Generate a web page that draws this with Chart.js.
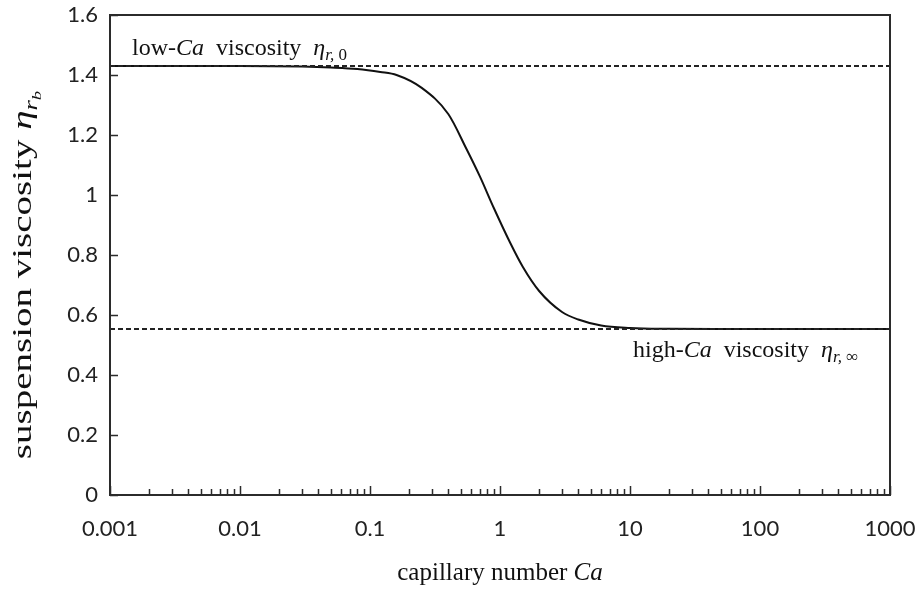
<!DOCTYPE html>
<html><head><meta charset="utf-8">
<script src="https://cdn.jsdelivr.net/npm/chart.js@4.4.1/dist/chart.umd.min.js"></script>
<style>html,body{margin:0;padding:0;background:#fff}canvas{display:block}</style>
</head><body>
<canvas id="c" width="919" height="597"></canvas>
<script>
// ---- data ----
const capillaryNumbers = [0.001, 0.003, 0.01, 0.03, 0.05, 0.08, 0.12, 0.16, 0.25, 0.4, 0.55, 0.7, 0.9, 1.2, 1.5, 2, 3, 4, 6, 10, 20, 50, 100, 1000];
const suspensionViscosity = [1.43, 1.43, 1.43, 1.428, 1.425, 1.42, 1.41, 1.40, 1.357, 1.27, 1.155, 1.062, 0.955, 0.84, 0.76, 0.68, 0.61, 0.585, 0.565, 0.557, 0.554, 0.553, 0.553, 0.553];
const lowCaViscosity = 1.43;
const highCaViscosity = 0.553;
const xRange = [0.001, 1000];
const xTickValues = [0.001, 0.01, 0.1, 1, 10, 100, 1000];
const yTickValues = [0, 0.2, 0.4, 0.6, 0.8, 1, 1.2, 1.4, 1.6];

const SERIF = '"Liberation Serif", "DejaVu Serif", serif';
const SANS = 'Lato, "Open Sans", sans-serif';

function runsWidth(ctx, runs){
  let w = 0;
  for (const r of runs){ ctx.font = r.font; w += ctx.measureText(r.text).width; }
  return w;
}
function drawRuns(ctx, runs, x, y){
  let cx = x;
  for (const r of runs){
    ctx.font = r.font;
    ctx.fillText(r.text, cx, y + (r.dy || 0));
    cx += ctx.measureText(r.text).width;
  }
}

const decor = {
  id: 'decor',
  afterDraw(chart){
    const ctx = chart.ctx, a = chart.chartArea;
    const xs = chart.scales.x, ys = chart.scales.y;
    ctx.save();
    // frame
    ctx.strokeStyle = '#2b2b2b';
    ctx.lineWidth = 2;
    ctx.strokeRect(a.left, a.top, a.right - a.left, a.bottom - a.top);
    // y ticks (inward)
    ctx.lineWidth = 1.5;
    ctx.beginPath();
    for (const v of yTickValues){
      const py = Math.round(ys.getPixelForValue(v)) + 0.5;
      ctx.moveTo(a.left, py); ctx.lineTo(a.left + 8, py);
    }
    // x ticks (inward), major and minor
    for (let i = 0; i < xTickValues.length; i++){
      const d = xTickValues[i];
      const px = Math.round(xs.getPixelForValue(d)) + 0.5;
      ctx.moveTo(px, a.bottom); ctx.lineTo(px, a.bottom - 9);
      if (i < xTickValues.length - 1){
        for (let m = 2; m <= 9; m++){
          const p = Math.round(xs.getPixelForValue(d * m)) + 0.5;
          ctx.moveTo(p, a.bottom); ctx.lineTo(p, a.bottom - 6);
        }
      }
    }
    ctx.stroke();

    ctx.fillStyle = '#111';
    ctx.textBaseline = 'alphabetic';
    const f = (s, it) => (it ? 'italic ' : '') + s + 'px ' + SERIF;

    // x axis title
    const xt = [
      {text: 'capillary number ', font: f(25)},
      {text: 'Ca', font: f(25, true)}
    ];
    const xw = runsWidth(ctx, xt);
    drawRuns(ctx, xt, (a.left + a.right) / 2 - xw / 2, 580);

    // y axis title (rotated, stretched like the reference)
    const yt = [
      {text: 'suspension viscosity ', font: f(25)},
      {text: 'η', font: f(25, true)},
      {text: 'r', font: f(17, true), dy: 5},
      {text: 'b', font: f(12, true), dy: 9}
    ];
    const yw = runsWidth(ctx, yt);
    ctx.save();
    ctx.translate(31, 275);
    ctx.rotate(-Math.PI / 2);
    ctx.scale(1.56, 1.12);
    drawRuns(ctx, yt, -yw / 2, 0);
    ctx.restore();

    // annotations
    const low = [
      {text: 'low-', font: f(24)},
      {text: 'Ca', font: f(24, true)},
      {text: '  viscosity  ', font: f(24)},
      {text: 'η', font: f(24, true)},
      {text: 'r,', font: f(17, true), dy: 5},
      {text: ' 0', font: f(17), dy: 5}
    ];
    drawRuns(ctx, low, 132, 55);
    const high = [
      {text: 'high-', font: f(24)},
      {text: 'Ca', font: f(24, true)},
      {text: '  viscosity  ', font: f(24)},
      {text: 'η', font: f(24, true)},
      {text: 'r,', font: f(17, true), dy: 5},
      {text: ' ∞', font: f(17), dy: 5}
    ];
    drawRuns(ctx, high, 633, 357);
    ctx.restore();
  }
};

const pts = (xsArr, ysArr) => xsArr.map((x, i) => ({x, y: ysArr[i]}));

new Chart(document.getElementById('c'), {
  type: 'line',
  data: {
    datasets: [
      {
        label: 'low-Ca viscosity',
        data: pts(xRange, [lowCaViscosity, lowCaViscosity]),
        borderColor: '#222', borderWidth: 2, borderDash: [5, 3],
        pointRadius: 0, tension: 0
      },
      {
        label: 'high-Ca viscosity',
        data: pts(xRange, [highCaViscosity, highCaViscosity]),
        borderColor: '#222', borderWidth: 2, borderDash: [5, 3],
        pointRadius: 0, tension: 0
      },
      {
        label: 'suspension viscosity',
        data: pts(capillaryNumbers, suspensionViscosity),
        borderColor: '#111', borderWidth: 2,
        pointRadius: 0, tension: 0.2, cubicInterpolationMode: 'monotone'
      }
    ]
  },
  options: {
    responsive: false,
    animation: false,
    devicePixelRatio: 1,
    layout: {padding: {top: 15, right: 29, left: 0, bottom: 0}},
    plugins: {legend: {display: false}, tooltip: {enabled: false}},
    scales: {
      x: {
        type: 'logarithmic',
        min: xRange[0], max: xRange[1],
        grid: {display: false, drawTicks: true, tickLength: 21},
        border: {display: true, color: '#2b2b2b', width: 2},
        afterBuildTicks: s => { s.ticks = xTickValues.map(v => ({value: v, major: true})); },
        ticks: {
          autoSkip: false, maxRotation: 0, padding: 0,
          color: '#222', font: {family: SANS, size: 22},
          callback: v => String(v)
        },
        afterFit: s => { s.height = 102; }
      },
      y: {
        type: 'linear',
        min: 0, max: 1.6,
        grid: {display: false, drawTicks: true, tickLength: 12},
        border: {display: true, color: '#2b2b2b', width: 2},
        afterBuildTicks: s => { s.ticks = yTickValues.map(v => ({value: v})); },
        ticks: {
          padding: 0,
          color: '#222', font: {family: SANS, size: 22},
          callback: v => String(Number(v.toFixed(1)))
        },
        afterFit: s => { s.width = 110; }
      }
    }
  },
  plugins: [decor]
});
</script>
</body></html>
